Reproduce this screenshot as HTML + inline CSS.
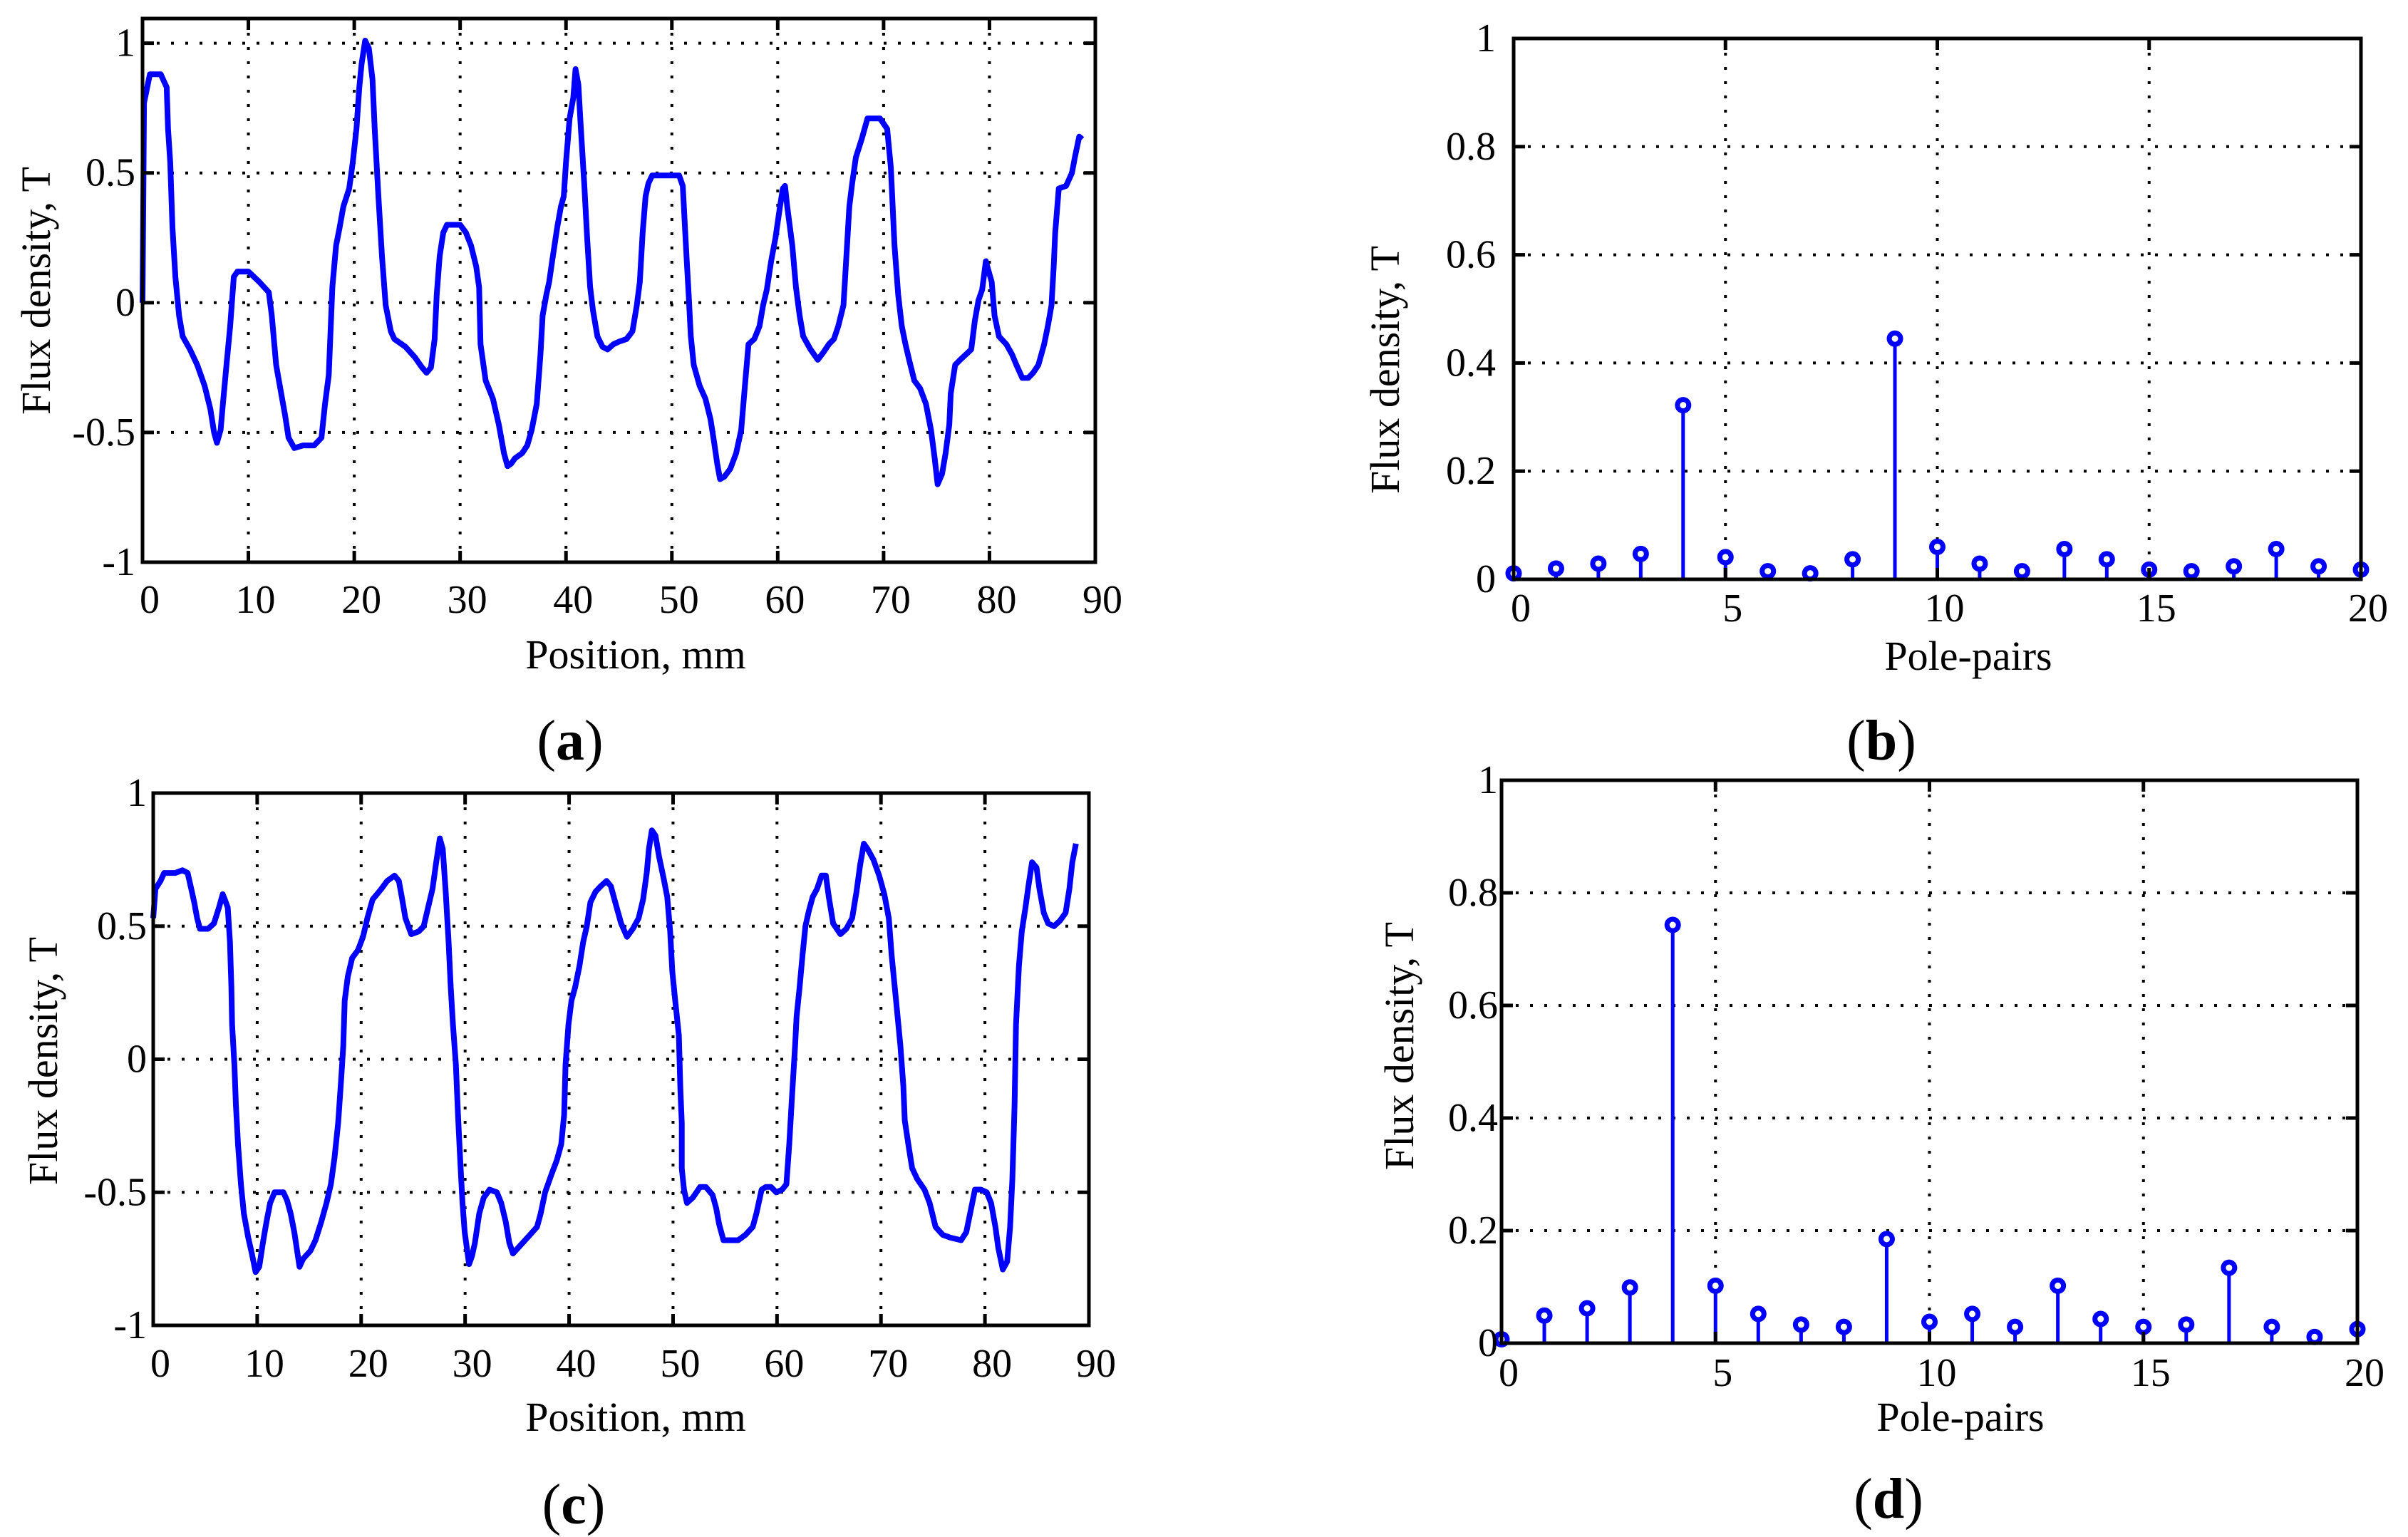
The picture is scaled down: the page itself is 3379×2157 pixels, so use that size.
<!DOCTYPE html>
<html><head><meta charset="utf-8">
<style>
html,body{margin:0;padding:0;background:#fff;}
svg{display:block;}
text{font-family:"Liberation Serif",serif;fill:#000;}
</style></head>
<body>
<svg id="fig" width="3379" height="2157" viewBox="0 0 3379 2157" xmlns="http://www.w3.org/2000/svg"></svg>
<script>
// ---- data ----
const posA_x=[0,0.14,0.69,1.72,2.28,2.41,2.62,2.83,3.10,3.45,3.79,4.48,5.17,5.86,6.41,6.76,7.03,7.38,7.59,7.93,8.28,8.62,8.97,10.0,11.03,11.93,12.21,12.62,13.10,13.45,13.79,14.34,15.17,16.21,16.90,17.24,17.59,17.93,18.28,18.62,18.97,19.52,19.86,20.21,20.48,20.69,21.03,21.38,21.72,21.93,22.28,22.62,22.97,23.45,23.79,24.83,25.72,26.41,26.83,27.24,27.59,27.79,28.07,28.41,28.76,30.0,30.55,31.03,31.52,31.79,31.93,32.41,33.10,33.66,34.14,34.48,34.83,35.17,35.86,36.34,36.76,37.24,37.59,37.79,38.14,38.41,38.69,39.17,39.52,39.79,40.0,40.34,40.69,40.90,41.17,41.38,41.72,42.0,42.28,42.55,42.97,43.45,43.93,44.48,45.03,45.72,46.28,46.69,46.97,47.24,47.52,47.79,48.14,50.69,51.03,51.38,51.59,51.79,52.07,52.62,53.17,53.66,54.0,54.28,54.55,54.97,55.52,56.07,56.55,56.90,57.24,57.79,58.28,58.62,58.97,59.38,59.79,60.21,60.48,60.69,60.90,61.38,61.72,62.07,62.41,63.10,63.79,64.34,64.83,65.31,65.72,66.21,66.55,66.76,67.03,67.38,67.93,68.48,69.66,70.34,70.69,71.03,71.38,71.72,72.07,72.41,72.90,73.45,74.0,74.48,74.83,75.10,75.52,75.86,76.21,76.34,76.76,77.24,78.28,78.62,78.97,79.31,79.66,79.86,80.21,80.48,80.90,81.59,82.14,82.55,83.10,83.66,84.14,84.62,85.17,85.52,85.86,86.07,86.21,86.55,87.24,87.79,88.07,88.48,88.76];
const fluxA=[0,0.77,0.88,0.88,0.83,0.67,0.54,0.29,0.10,-0.05,-0.13,-0.18,-0.24,-0.32,-0.41,-0.50,-0.54,-0.49,-0.39,-0.24,-0.09,0.10,0.12,0.12,0.08,0.04,-0.05,-0.24,-0.35,-0.43,-0.52,-0.56,-0.55,-0.55,-0.52,-0.39,-0.28,0.06,0.22,0.29,0.37,0.44,0.54,0.67,0.83,0.92,1.01,0.98,0.86,0.67,0.41,0.18,-0.01,-0.11,-0.14,-0.17,-0.21,-0.25,-0.27,-0.25,-0.14,0.03,0.18,0.27,0.30,0.30,0.27,0.22,0.14,0.06,-0.16,-0.30,-0.37,-0.47,-0.58,-0.63,-0.62,-0.60,-0.58,-0.55,-0.49,-0.39,-0.20,-0.05,0.03,0.08,0.16,0.29,0.37,0.41,0.54,0.71,0.79,0.90,0.84,0.69,0.46,0.25,0.06,-0.03,-0.13,-0.17,-0.18,-0.16,-0.15,-0.14,-0.11,-0.01,0.08,0.27,0.41,0.46,0.49,0.49,0.45,0.18,0.03,-0.13,-0.24,-0.32,-0.37,-0.45,-0.54,-0.62,-0.68,-0.67,-0.64,-0.58,-0.49,-0.32,-0.16,-0.14,-0.09,-0.01,0.05,0.16,0.25,0.37,0.44,0.45,0.37,0.22,0.06,-0.05,-0.13,-0.18,-0.22,-0.19,-0.16,-0.14,-0.09,-0.01,0.22,0.37,0.46,0.56,0.63,0.71,0.71,0.67,0.52,0.22,0.03,-0.09,-0.16,-0.22,-0.30,-0.33,-0.39,-0.49,-0.60,-0.70,-0.66,-0.58,-0.47,-0.35,-0.24,-0.22,-0.18,-0.07,0.01,0.05,0.16,0.13,0.08,-0.05,-0.13,-0.16,-0.20,-0.24,-0.29,-0.29,-0.27,-0.24,-0.16,-0.09,-0.01,0.14,0.27,0.44,0.45,0.50,0.56,0.64,0.63];
const posC_x=[0,0.21,0.70,1.05,2.11,2.81,3.31,3.66,3.94,4.22,4.50,5.27,5.84,6.33,6.68,6.89,7.17,7.38,7.52,7.59,7.81,7.95,8.16,8.44,8.72,9.14,9.49,9.85,10.20,10.55,10.90,11.25,11.67,12.52,12.87,13.22,13.57,14.07,14.42,15.12,15.61,16.17,16.67,17.09,17.44,17.79,18.07,18.28,18.42,18.71,19.13,19.69,20.18,20.60,21.10,21.94,22.50,23.21,23.63,23.91,24.26,24.82,25.53,26.02,26.44,26.86,27.22,27.57,27.85,28.13,28.41,28.62,28.83,29.11,29.32,29.54,29.75,29.96,30.38,30.66,30.94,31.36,31.79,32.35,33.05,33.47,33.90,34.25,34.60,35.30,36.01,36.92,37.27,37.69,38.33,38.82,39.24,39.52,39.66,39.94,40.23,40.58,41.00,41.35,41.70,42.05,42.55,43.04,43.60,44.02,44.44,45.01,45.57,46.13,46.69,47.12,47.47,47.68,47.96,48.31,48.66,49.09,49.44,49.72,49.93,50.21,50.56,50.70,50.84,50.84,51.05,51.34,51.90,52.60,53.16,53.80,54.15,54.43,54.85,56.26,56.96,57.67,58.02,58.52,58.93,59.42,59.92,60.49,60.90,61.18,61.46,61.74,61.88,62.17,62.45,62.73,63.08,63.43,63.85,64.28,64.70,64.98,65.40,66.10,66.67,67.23,67.65,68.00,68.35,68.71,69.27,69.83,70.32,70.75,71.03,71.45,71.87,72.15,72.29,72.71,73.00,73.49,74.19,74.68,75.25,75.95,76.65,77.71,78.20,78.62,79.04,79.61,80.17,80.59,81.01,81.29,81.72,82.14,82.42,82.64,82.85,82.99,83.27,83.54,83.90,84.18,84.53,84.96,85.24,85.66,86.08,86.64,87.20,87.76,88.12,88.40,88.75];
const fluxC=[0.53,0.64,0.67,0.70,0.70,0.71,0.70,0.64,0.59,0.53,0.49,0.49,0.51,0.57,0.62,0.60,0.57,0.44,0.27,0.13,-0.02,-0.17,-0.32,-0.47,-0.58,-0.67,-0.73,-0.80,-0.78,-0.69,-0.61,-0.54,-0.50,-0.50,-0.53,-0.58,-0.65,-0.78,-0.75,-0.72,-0.68,-0.61,-0.54,-0.47,-0.37,-0.24,-0.08,0.05,0.22,0.31,0.38,0.41,0.46,0.53,0.60,0.64,0.67,0.69,0.67,0.61,0.53,0.47,0.48,0.50,0.57,0.64,0.74,0.83,0.79,0.63,0.44,0.27,0.13,-0.02,-0.21,-0.39,-0.54,-0.65,-0.77,-0.74,-0.69,-0.58,-0.52,-0.49,-0.50,-0.54,-0.61,-0.69,-0.73,-0.70,-0.67,-0.63,-0.58,-0.50,-0.43,-0.38,-0.32,-0.21,-0.02,0.13,0.22,0.27,0.35,0.44,0.50,0.59,0.63,0.65,0.67,0.65,0.59,0.51,0.46,0.49,0.53,0.60,0.70,0.79,0.86,0.84,0.76,0.68,0.61,0.48,0.33,0.22,0.09,-0.11,-0.24,-0.41,-0.49,-0.54,-0.52,-0.48,-0.48,-0.51,-0.56,-0.62,-0.68,-0.68,-0.66,-0.63,-0.58,-0.49,-0.48,-0.48,-0.50,-0.49,-0.47,-0.32,-0.13,0.05,0.16,0.27,0.39,0.50,0.56,0.61,0.64,0.69,0.69,0.61,0.51,0.47,0.49,0.53,0.63,0.73,0.81,0.79,0.75,0.69,0.62,0.53,0.39,0.22,0.05,-0.10,-0.23,-0.34,-0.41,-0.45,-0.49,-0.54,-0.63,-0.66,-0.67,-0.68,-0.65,-0.57,-0.49,-0.49,-0.50,-0.54,-0.63,-0.71,-0.79,-0.76,-0.63,-0.45,-0.17,0.13,0.35,0.48,0.57,0.65,0.74,0.72,0.64,0.55,0.51,0.50,0.52,0.55,0.64,0.74,0.81];
const polePairs=[0,1,2,3,4,5,6,7,8,9,10,11,12,13,14,15,16,17,18,19,20];
const harmB=[0.011,0.02,0.029,0.047,0.322,0.041,0.015,0.011,0.037,0.445,0.06,0.029,0.015,0.056,0.037,0.018,0.015,0.024,0.056,0.024,0.018];
const harmD=[0.007,0.049,0.062,0.099,0.743,0.102,0.052,0.033,0.029,0.185,0.038,0.052,0.029,0.102,0.043,0.029,0.033,0.134,0.029,0.011,0.025];
const posTicks=[0,10,20,30,40,50,60,70,80,90];
const posTickLabels=["0","10","20","30","40","50","60","70","80","90"];
const fluxTicks=[-1,-0.5,0,0.5,1];
const fluxTickLabels=["-1","-0.5","0","0.5","1"];
const poleTicks=[0,5,10,15,20];
const poleTickLabels=["0","5","10","15","20"];
const harmTicks=[0,0.2,0.4,0.6,0.8,1];
const harmTickLabels=["0","0.2","0.4","0.6","0.8","1"];

const NS="http://www.w3.org/2000/svg";
const svg=document.getElementById('fig');
function mk(tag,attrs,parent){const e=document.createElementNS(NS,tag);for(const k in attrs)e.setAttribute(k,attrs[k]);(parent||svg).appendChild(e);return e;}

function panel(cfg){
  const g=mk('g',{});
  
  
  const sx=v=>cfg.L+(v-cfg.xmin)/(cfg.xmax-cfg.xmin)*(cfg.R-cfg.L);
  const sy=v=>cfg.B-(v-cfg.ymin)/(cfg.ymax-cfg.ymin)*(cfg.B-cfg.T);
  cfg.xt.forEach(v=>{if(v>cfg.xmin&&v<cfg.xmax){const l=mk('line',{x1:sx(v),x2:sx(v),y1:cfg.T,y2:cfg.B,stroke:'#000','stroke-width':4,'stroke-dasharray':'4 16'},g);
    
    }});
  cfg.yt.forEach(v=>{if(v>cfg.ymin&&v<cfg.ymax){const l=mk('line',{x1:cfg.L,x2:cfg.R,y1:sy(v),y2:sy(v),stroke:'#000','stroke-width':4,'stroke-dasharray':'4 16'},g);
    
    }});
  if(cfg.type==='line'){
    const d=cfg.xs.map((x,i)=>(i?'L':'M')+sx(x).toFixed(1)+' '+sy(cfg.ys[i]).toFixed(1)).join(' ');
    const p=mk('path',{d:d,fill:'none',stroke:'#0000ff','stroke-width':8,'stroke-linejoin':'round'},g);
    
    
  } else {
    cfg.xs.forEach((x,i)=>{
      const s=mk('line',{x1:sx(x),x2:sx(x),y1:cfg.B,y2:sy(cfg.ys[i]),stroke:'#0000ff','stroke-width':5},g);
      
      
      const c=mk('circle',{cx:sx(x),cy:sy(cfg.ys[i]),r:8,fill:'#fff',stroke:'#0000ff','stroke-width':7},g);
      
      
    });
  }
  cfg.xt.forEach(v=>{const x=sx(v);mk('line',{x1:x,x2:x,y1:cfg.B,y2:cfg.B-16,stroke:'#000','stroke-width':5},g);mk('line',{x1:x,x2:x,y1:cfg.T,y2:cfg.T+16,stroke:'#000','stroke-width':5},g);});
  cfg.yt.forEach(v=>{const y=sy(v);mk('line',{x1:cfg.L,x2:cfg.L+16,y1:y,y2:y,stroke:'#000','stroke-width':5},g);mk('line',{x1:cfg.R,x2:cfg.R-16,y1:y,y2:y,stroke:'#000','stroke-width':5},g);});
  const f=mk('rect',{x:cfg.L,y:cfg.T,width:cfg.R-cfg.L,height:cfg.B-cfg.T,fill:'none',stroke:'#000','stroke-width':5},g);
  
  
  cfg.xt.forEach((v,i)=>{const t=mk('text',{x:sx(v)+10,y:cfg.xly,'font-size':56,'text-anchor':'middle'},g);t.textContent=cfg.xtl[i];
    
    });
  cfg.yt.forEach((v,i)=>{const t=mk('text',{x:cfg.ylx,y:sy(v)+18,'font-size':56,'text-anchor':'end'},g);t.textContent=cfg.ytl[i];
    
    });
  const xt=mk('text',{x:cfg.xtx,y:cfg.xty,'font-size':58,'text-anchor':'middle'},g);xt.textContent=cfg.xtitle;
  
  
  const yt=mk('text',{x:0,y:0,'font-size':58,'text-anchor':'middle',transform:`translate(${cfg.ytx},${cfg.yty}) rotate(-90)`},g);yt.textContent='Flux density, T';
  
  
  const cap=mk('text',{x:cfg.cx,y:cfg.cy,'font-size':80,'text-anchor':'middle'},g);
  cap.innerHTML='(<tspan font-weight="bold">'+cfg.letter+'</tspan>)';
  
  
}

panel({name:'panel-a',type:'line',L:200,R:1537,T:26,B:789,xmin:0,xmax:90,ymin:-1,ymax:1.095,xs:posA_x,ys:fluxA,
  xt:posTicks,xtl:posTickLabels,yt:fluxTicks,ytl:fluxTickLabels,xly:860,ylx:190,xtitle:'Position, mm',xtx:892,xty:938,ytx:70,yty:408,cx:800,cy:1066,letter:'a'});
panel({name:'panel-b',type:'stem',L:2124,R:3313,T:54,B:813,xmin:0,xmax:20,ymin:0,ymax:1,xs:polePairs,ys:harmB,
  xt:poleTicks,xtl:poleTickLabels,yt:harmTicks,ytl:harmTickLabels,xly:872,ylx:2099,xtitle:'Pole-pairs',xtx:2762,xty:940,ytx:1963,yty:519,cx:2640,cy:1066,letter:'b'});
panel({name:'panel-c',type:'line',L:215,R:1528,T:1113,B:1860,xmin:0,xmax:90,ymin:-1,ymax:1,xs:posC_x,ys:fluxC,
  xt:posTicks,xtl:posTickLabels,yt:fluxTicks,ytl:fluxTickLabels,xly:1932,ylx:206,xtitle:'Position, mm',xtx:892,xty:2008,ytx:80,yty:1489,cx:805,cy:2138,letter:'c'});
panel({name:'panel-d',type:'stem',L:2107,R:3308,T:1095,B:1885,xmin:0,xmax:20,ymin:0,ymax:1,xs:polePairs,ys:harmD,
  xt:poleTicks,xtl:poleTickLabels,yt:harmTicks,ytl:harmTickLabels,xly:1945,ylx:2102,xtitle:'Pole-pairs',xtx:2751,xty:2008,ytx:1983,yty:1468,cx:2650,cy:2130,letter:'d'});
</script>
</body></html>
